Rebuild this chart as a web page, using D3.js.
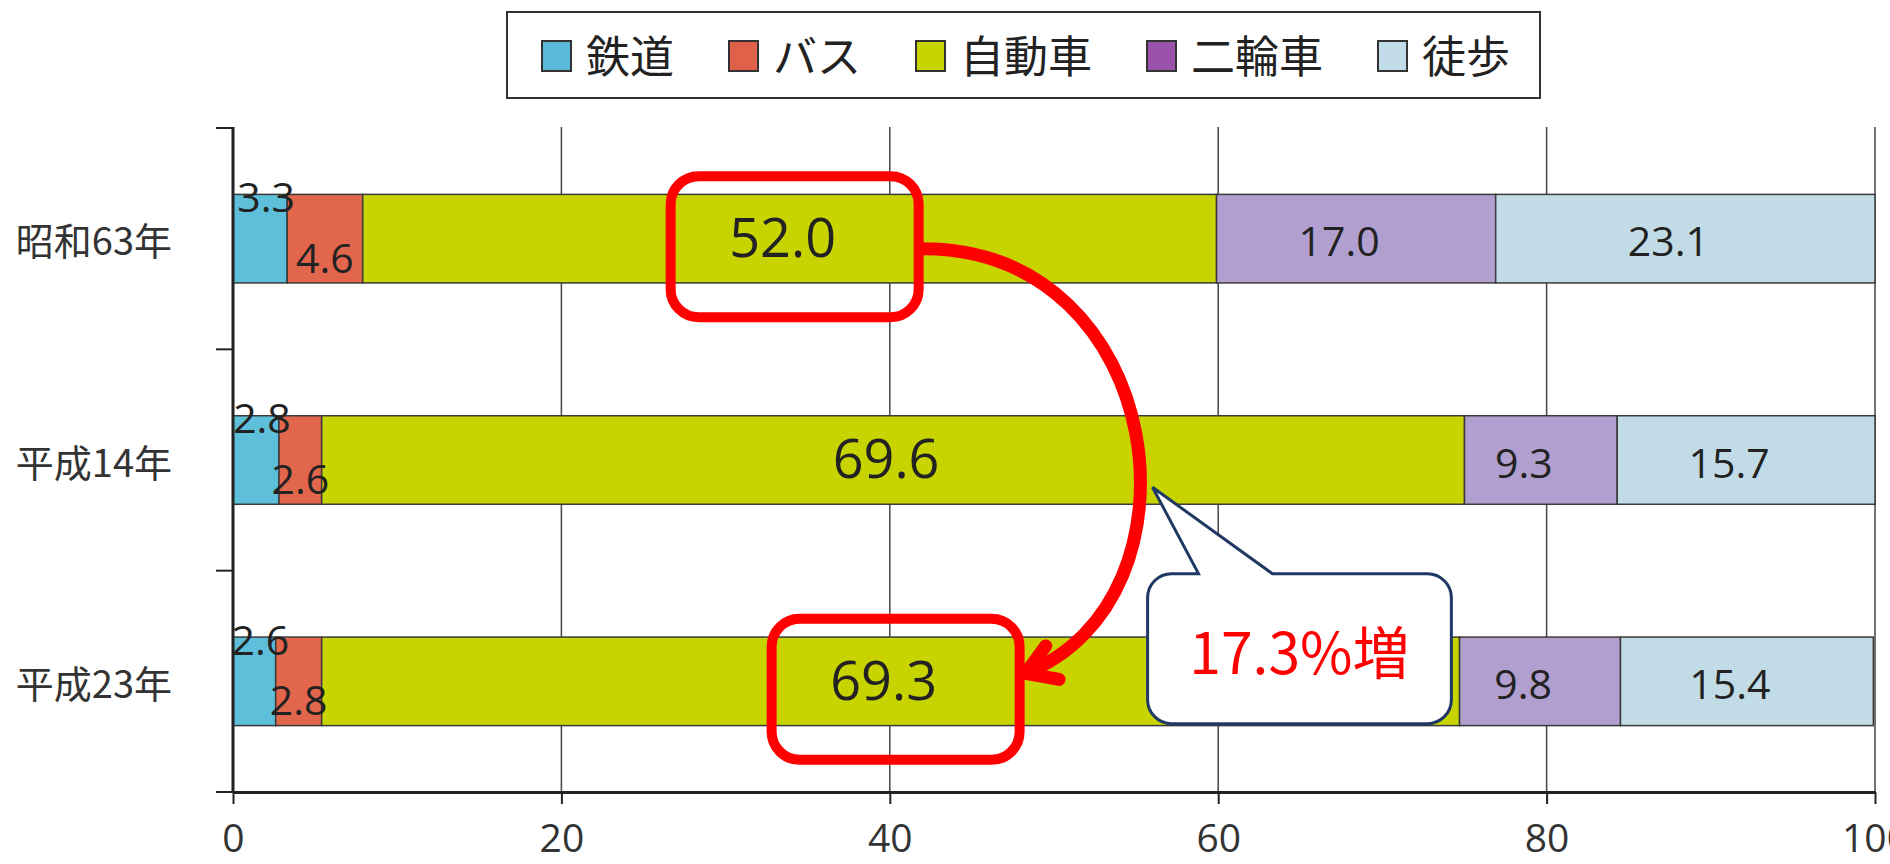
<!DOCTYPE html>
<html><head><meta charset="utf-8">
<script src="https://cdn.jsdelivr.net/npm/d3@7"></script>
<style>
html,body{margin:0;padding:0;background:#fff;overflow:hidden}
svg{display:block}
</style></head><body>
<svg id="chart" width="1890" height="864"></svg>
<script>
// ---- data ----
const categories = ["昭和63年", "平成14年", "平成23年"];
const seriesNames = ["鉄道", "バス", "自動車", "二輪車", "徒歩"];
const rail = [3.3, 2.8, 2.6];
const bus = [4.6, 2.6, 2.8];
const car = [52.0, 69.6, 69.3];
const moto = [17.0, 9.3, 9.8];
const walk = [23.1, 15.7, 15.4];
const xTicks = [0, 20, 40, 60, 80, 100];
const increaseLabel = "17.3%増";
const highlighted = ["昭和63年", "平成23年"];   // car values circled

// ---- styles ----
const barColors = ["#5dbfd9", "#e2664c", "#c8d400", "#b19fd0", "#c2dce7"];
const legendColors = ["#5ab9d8", "#e0614a", "#c8d400", "#9a52aa", "#c3dce9"];
const numFont = "'Open Sans', 'Noto Sans', sans-serif";
const jpFont = "'Noto Sans CJK JP', 'Noto Sans', sans-serif";

const svg = d3.select("#chart");

const rows = categories.map((c, i) => ({
  cat: c, "鉄道": rail[i], "バス": bus[i], "自動車": car[i], "二輪車": moto[i], "徒歩": walk[i]
}));
const stacked = d3.stack().keys(seriesNames)(rows);

const x = d3.scaleLinear().domain([0, 100]).range([233, 1875]);
const y = d3.scaleBand().domain(categories).range([128, 792]).paddingInner(0.6).paddingOuter(0.3);
const bw = y.bandwidth();
const gap = (y.step() - bw) / 2;
const boundaries = categories.map(c => y(c) - gap).concat([y(categories[categories.length - 1]) + bw + gap]);
const yTop = 127, yBottom = 792;

// gridlines
svg.append("g").selectAll("line").data(xTicks.filter(t => t > 0)).join("line")
  .attr("x1", d => x(d)).attr("x2", d => x(d))
  .attr("y1", yTop).attr("y2", yBottom)
  .attr("stroke", "#444").attr("stroke-width", 1.5);

// bars
const segG = svg.append("g");
stacked.forEach((s, si) => {
  segG.append("g").selectAll("rect").data(s).join("rect")
    .attr("x", d => x(d[0]))
    .attr("width", d => x(d[1]) - x(d[0]))
    .attr("y", d => y(d.data.cat))
    .attr("height", bw)
    .attr("fill", barColors[si])
    .attr("stroke", "#3a3a3a").attr("stroke-width", 1.5);
});

// value labels
const labelInfo = [];
stacked.forEach((s, si) => {
  s.forEach(d => {
    const mid = x((d[0] + d[1]) / 2);
    const top = y(d.data.cat), bot = top + bw, cy = top + bw / 2;
    let lx, ly, fs;
    if (si === 0) { lx = mid + 6; ly = top + 3; fs = 41; }
    else if (si === 1) { lx = mid; ly = bot - 25; fs = 41; }
    else if (si === 2) { lx = mid - 7; ly = cy - 1; fs = 54; }
    else { lx = mid - 17; ly = cy + 3; fs = 41; }
    labelInfo.push({ si, cat: d.data.cat, v: d[1] - d[0], lx, ly, fs });
  });
});
svg.append("g").selectAll("text").data(labelInfo).join("text")
  .attr("x", d => d.lx).attr("y", d => d.ly)
  .attr("dy", "0.357em")
  .attr("text-anchor", "middle")
  .attr("font-family", numFont)
  .attr("font-size", d => d.fs)
  .attr("fill", "#222")
  .text(d => d.v.toFixed(1));

// x axis
const xAxis = d3.axisBottom(x).tickValues(xTicks).tickSize(12).tickPadding(20).tickSizeOuter(0);
const xg = svg.append("g").attr("transform", `translate(0,${yBottom})`).call(xAxis);
xg.select(".domain").attr("stroke", "#222").attr("stroke-width", 3);
xg.selectAll(".tick line").attr("stroke", "#222").attr("stroke-width", 2);
xg.selectAll(".tick text").attr("font-family", numFont).attr("font-size", 39).attr("fill", "#333");

// y axis
svg.append("line").attr("x1", x(0)).attr("x2", x(0)).attr("y1", yTop).attr("y2", yBottom)
  .attr("stroke", "#222").attr("stroke-width", 3);
svg.append("g").selectAll("line").data(boundaries).join("line")
  .attr("x1", x(0) - 17).attr("x2", x(0)).attr("y1", d => d).attr("y2", d => d)
  .attr("stroke", "#222").attr("stroke-width", 2);
svg.append("g").selectAll("text").data(categories).join("text")
  .attr("x", x(0) - 61).attr("y", d => y(d) + bw / 2)
  .attr("text-anchor", "end").attr("dominant-baseline", "central")
  .attr("font-family", jpFont).attr("font-size", 38).attr("fill", "#333")
  .text(d => d);

// red highlight boxes around car labels
const boxW = 248, boxH = 141;
const boxes = highlighted.map(c => {
  const L = labelInfo.find(d => d.si === 2 && d.cat === c);
  const cx = L.lx + 12, cy = L.ly + 9;
  return { x0: cx - boxW / 2, y0: cy - boxH / 2, x1: cx + boxW / 2, y1: cy + boxH / 2, cy };
});
svg.append("g").selectAll("rect").data(boxes).join("rect")
  .attr("x", d => d.x0).attr("y", d => d.y0)
  .attr("width", boxW).attr("height", boxH)
  .attr("rx", 28).attr("ry", 28)
  .attr("fill", "none").attr("stroke", "#ff0000").attr("stroke-width", 10);

// red curved arrow
const b1 = boxes[0], b2 = boxes[1];
const p0 = [b1.x1 + 4, b1.cy + 2];
const tip = [b2.x1 + 6, b2.cy - 16];
const back = [0.93, -0.37];
const p1 = [p0[0] + 245, p0[1]];
const p2 = [tip[0] + 200 * back[0], tip[1] + 200 * back[1]];
const arrowPath = d3.path();
arrowPath.moveTo(p0[0], p0[1]);
arrowPath.bezierCurveTo(p1[0], p1[1], p2[0], p2[1], tip[0], tip[1]);
const ang = Math.atan2(back[1], back[0]);
const barb = 34, half = 32 * Math.PI / 180;
const bA = [tip[0] + barb * Math.cos(ang - half), tip[1] + barb * Math.sin(ang - half)];
const bB = [tip[0] + barb * Math.cos(ang + half), tip[1] + barb * Math.sin(ang + half)];
arrowPath.moveTo(bA[0], bA[1]); arrowPath.lineTo(tip[0], tip[1]); arrowPath.lineTo(bB[0], bB[1]);
svg.append("path").attr("d", arrowPath.toString())
  .attr("fill", "none").attr("stroke", "#ff0000").attr("stroke-width", 13)
  .attr("stroke-linecap", "round").attr("stroke-linejoin", "round");

// callout
const cx0 = x(55.7), cx1 = x(74.2), cy0 = boundaries[2] + 3, cy1 = cy0 + 150, r = 24;
const baseL = x(58.8), baseR = x(63.3);
const tipPt = [x(56.0), y(categories[1]) + bw - 17];
const cp = d3.path();
cp.moveTo(cx0 + r, cy0);
cp.lineTo(baseL, cy0);
cp.lineTo(tipPt[0], tipPt[1]);
cp.lineTo(baseR, cy0);
cp.lineTo(cx1 - r, cy0);
cp.arcTo(cx1, cy0, cx1, cy0 + r, r);
cp.lineTo(cx1, cy1 - r);
cp.arcTo(cx1, cy1, cx1 - r, cy1, r);
cp.lineTo(cx0 + r, cy1);
cp.arcTo(cx0, cy1, cx0, cy1 - r, r);
cp.lineTo(cx0, cy0 + r);
cp.arcTo(cx0, cy0, cx0 + r, cy0, r);
cp.closePath();
svg.append("path").attr("d", cp.toString())
  .attr("fill", "#fff").attr("stroke", "#1f3864").attr("stroke-width", 3).attr("stroke-linejoin", "miter");
svg.append("text")
  .attr("x", (cx0 + cx1) / 2).attr("y", (cy0 + cy1) / 2)
  .attr("text-anchor", "middle").attr("dominant-baseline", "central")
  .attr("font-family", jpFont).attr("font-size", 57).attr("fill", "#ff0000")
  .text(increaseLabel);

// legend
const lg = svg.append("g");
lg.append("rect").attr("x", 507).attr("y", 12).attr("width", 1033).attr("height", 86)
  .attr("fill", "#fff").attr("stroke", "#333").attr("stroke-width", 2);
let lx = 542;
seriesNames.forEach((n, i) => {
  lg.append("rect").attr("x", lx).attr("y", 41).attr("width", 29).attr("height", 30)
    .attr("fill", legendColors[i]).attr("stroke", "#333").attr("stroke-width", 2);
  const t = lg.append("text").attr("x", lx + 44).attr("y", 54)
    .attr("dominant-baseline", "central")
    .attr("font-family", jpFont).attr("font-size", 44).attr("font-weight", 400).attr("fill", "#222")
    .text(n);
  lx = lx + 44 + t.node().getComputedTextLength() + 55;
});
</script>
</body></html>
